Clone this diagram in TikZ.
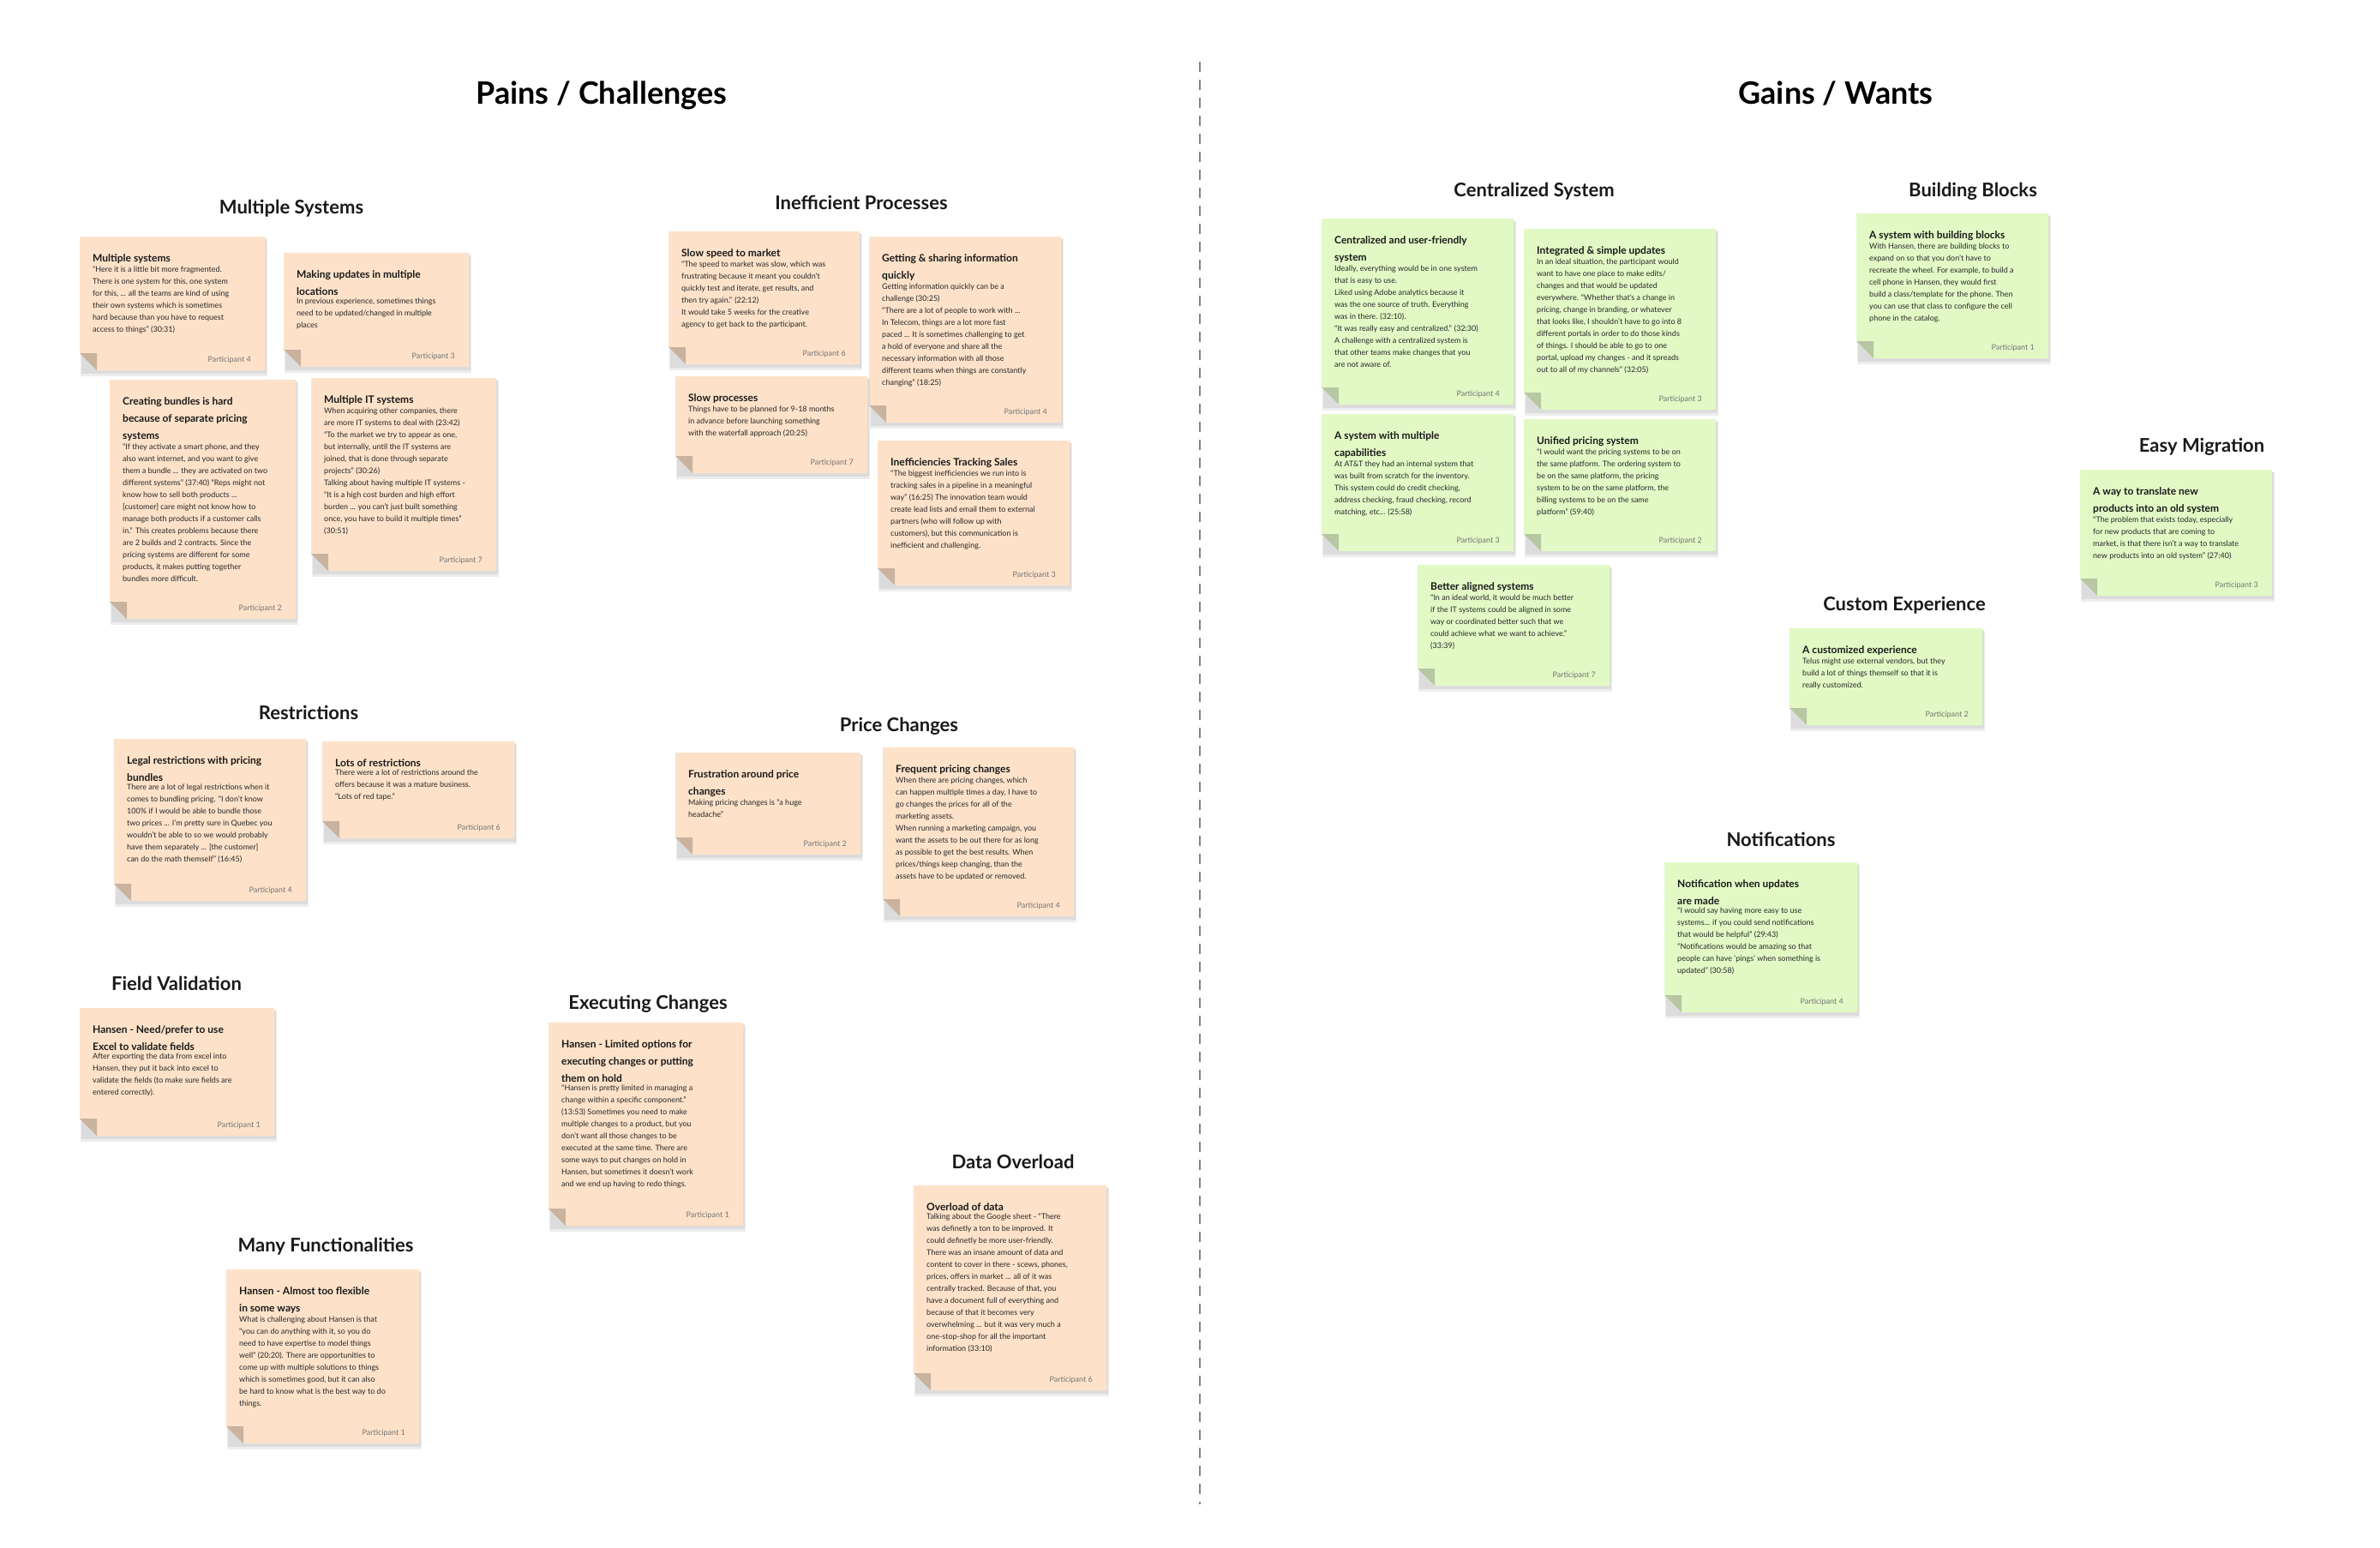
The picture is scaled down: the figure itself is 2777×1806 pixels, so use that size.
\documentclass[tikz,border=0pt]{standalone}
\usepackage{fontspec}
\setmainfont{Lato}
\definecolor{peach}{HTML}{FDE2C9}
\definecolor{peachfold}{HTML}{C9B39F}
\definecolor{mint}{HTML}{E2F9C5}
\definecolor{mintfold}{HTML}{B7C7A3}
\definecolor{divider}{HTML}{8A8478}
\tikzset{
  ntitle/.style={font=\fontsize{12}{20}\selectfont\bfseries, align=left, inner sep=0pt, text=black!90},
  nbody/.style={font=\fontsize{9}{14}\selectfont, align=left, inner sep=0pt, text=black!85},
  npart/.style={font=\fontsize{9}{12}\selectfont, inner sep=0pt, text=black!55},
  mainhead/.style={font=\fontsize{36}{40}\selectfont\bfseries, inner sep=0pt, anchor=base},
  sechead/.style={font=\fontsize{22}{26}\selectfont\bfseries, inner sep=0pt, anchor=base, text=black!90},
  shadowfill/.style={fill=black, opacity=0.07}
}
\newcommand\stickynote[9]{%
  \fill[shadowfill] (#2+1,#3+3) rectangle (#4+3,#5+7);
  \fill[shadowfill] (#2+2,#3+2) rectangle (#4+2,#5+4);
  \fill[#6] (#2,#3) -- (#4,#3) -- (#4,#5) -- (#2+20,#5) -- (#2,#5-20) -- cycle;
  \fill[#6fold] (#2,#5-20) -- (#2+20,#5-20) -- (#2+20,#5) -- cycle;
  \node[ntitle, anchor=north west] (#1t) at (#2+15,#3+20) {#7};
  \node[nbody, anchor=north west] (#1b) at ([yshift=-3pt]#1t.south west) {#8};
  \node[npart, anchor=base east] (#1p) at (#4-16,#5-10) {#9};
}
\begin{document}
\begin{tikzpicture}[x=1pt,y=-1pt]
\useasboundingbox (0,0) rectangle (2777,1806);
\fill[white] (0,0) rectangle (2777,1806);
\coordinate (dtop) at (1400,72);
\coordinate (dbot) at (1400,1755);
\draw[divider, line width=2pt, dash pattern=on 12pt off 9pt] (dtop) -- (dbot);

\node[mainhead] (pains) at (702,122) {Pains / Challenges};
\node[mainhead] (gains) at (2142,122) {Gains / Wants};

\node[sechead] (h1) at (340,250) {Multiple Systems};
\node[sechead] (h2) at (1005,245) {Inefficient Processes};
\node[sechead] (h3) at (360,839) {Restrictions};
\node[sechead] (h4) at (1049,853) {Price Changes};
\node[sechead] (h5) at (206,1155) {Field Validation};
\node[sechead] (h6) at (756,1177) {Executing Changes};
\node[sechead] (h7) at (1182,1363) {Data Overload};
\node[sechead] (h8) at (380,1460) {Many Functionalities};
\node[sechead] (h9) at (1790,230) {Centralized System};
\node[sechead] (h10) at (2302,230) {Building Blocks};
\node[sechead] (h11) at (2569,527) {Easy Migration};
\node[sechead] (h12) at (2222,712) {Custom Experience};
\node[sechead] (h13) at (2078,987) {Notifications};

\stickynote{n1}{93}{276}{309}{432}{peach}{Multiple systems}{“Here it is a little bit more fragmented.\\There is one system for this, one system\\for this, ... all the teams are kind of using\\their own systems which is sometimes\\hard because than you have to request\\access to things” (30:31)}{Participant 4}
\stickynote{n2}{331}{295}{547}{428}{peach}{Making updates in multiple\\locations}{In previous experience, sometimes things\\need to be updated/changed in multiple\\places}{Participant 3}
\stickynote{n3}{128}{443}{345}{722}{peach}{Creating bundles is hard\\because of separate pricing\\systems}{“If they activate a smart phone, and they\\also want internet, and you want to give\\them a bundle ... they are activated on two\\different systems” (37:40) “Reps might not\\know how to sell both products ...\\{[}customer{]} care might not know how to\\manage both products if a customer calls\\in.” This creates problems because there\\are 2 builds and 2 contracts. Since the\\pricing systems are different for some\\products, it makes putting together\\bundles more difficult.}{Participant 2}
\stickynote{n4}{363}{441}{579}{666}{peach}{Multiple IT systems}{When acquiring other companies, there\\are more IT systems to deal with (23:42)\\“To the market we try to appear as one,\\but internally, until the IT systems are\\joined, that is done through separate\\projects” (30:26)\\Talking about having multiple IT systems -\\“It is a high cost burden and high effort\\burden ... you can’t just built something\\once, you have to build it multiple times”\\(30:51)}{Participant 7}

\stickynote{n5}{780}{270}{1003}{425}{peach}{Slow speed to market}{“The speed to market was slow, which was\\frustrating because it meant you couldn’t\\quickly test and iterate, get results, and\\then try again.” (22:12)\\It would take 5 weeks for the creative\\agency to get back to the participant.}{Participant 6}
\stickynote{n6}{1014}{276}{1238}{493}{peach}{Getting \& sharing information\\quickly}{Getting information quickly can be a\\challenge (30:25)\\“There are a lot of people to work with ...\\In Telecom, things are a lot more fast\\paced ... It is sometimes challenging to get\\a hold of everyone and share all the\\necessary information with all those\\different teams when things are constantly\\changing” (18:25)}{Participant 4}
\stickynote{n7}{788}{439}{1012}{552}{peach}{Slow processes}{Things have to be planned for 9-18 months\\in advance before launching something\\with the waterfall approach (20:25)}{Participant 7}
\stickynote{n8}{1024}{514}{1248}{683}{peach}{Inefficiencies Tracking Sales}{“The biggest inefficiencies we run into is\\tracking sales in a pipeline in a meaningful\\way” (16:25) The innovation team would\\create lead lists and email them to external\\partners (who will follow up with\\customers), but this communication is\\inefficient and challenging.}{Participant 3}

\stickynote{n9}{133}{862}{357}{1051}{peach}{Legal restrictions with pricing\\bundles}{There are a lot of legal restrictions when it\\comes to bundling pricing. “I don’t know\\100\% if I would be able to bundle those\\two prices ... I’m pretty sure in Quebec you\\wouldn’t be able to so we would probably\\have them separately ... {[}the customer{]}\\can do the math themself” (16:45)}{Participant 4}
\stickynote{n10}{376}{865}{600}{978}{peach}{Lots of restrictions}{There were a lot of restrictions around the\\offers because it was a mature business.\\“Lots of red tape.”}{Participant 6}

\stickynote{n11}{788}{878}{1004}{997}{peach}{Frustration around price\\changes}{Making pricing changes is “a huge\\headache”}{Participant 2}
\stickynote{n12}{1030}{872}{1253}{1069}{peach}{Frequent pricing changes}{When there are pricing changes, which\\can happen multiple times a day, I have to\\go changes the prices for all of the\\marketing assets.\\When running a marketing campaign, you\\want the assets to be out there for as long\\as possible to get the best results. When\\prices/things keep changing, than the\\assets have to be updated or removed.}{Participant 4}

\stickynote{n13}{93}{1176}{320}{1325}{peach}{Hansen - Need/prefer to use\\Excel to validate fields}{After exporting the data from excel into\\Hansen, they put it back into excel to\\validate the fields (to make sure fields are\\entered correctly).}{Participant 1}
\stickynote{n14}{640}{1193}{867}{1430}{peach}{Hansen - Limited options for\\executing changes or putting\\them on hold}{“Hansen is pretty limited in managing a\\change within a specific component.”\\(13:53) Sometimes you need to make\\multiple changes to a product, but you\\don’t want all those changes to be\\executed at the same time. There are\\some ways to put changes on hold in\\Hansen, but sometimes it doesn’t work\\and we end up having to redo things.}{Participant 1}
\stickynote{n15}{264}{1481}{489}{1684}{peach}{Hansen - Almost too flexible\\in some ways}{What is challenging about Hansen is that\\“you can do anything with it, so you do\\need to have expertise to model things\\well” (20:20). There are opportunities to\\come up with multiple solutions to things\\which is sometimes good, but it can also\\be hard to know what is the best way to do\\things.}{Participant 1}
\stickynote{n16}{1066}{1383}{1291}{1622}{peach}{Overload of data}{Talking about the Google sheet - “There\\was definetly a ton to be improved. It\\could definetly be more user-friendly.\\There was an insane amount of data and\\content to cover in there - scews, phones,\\prices, offers in market ... all of it was\\centrally tracked. Because of that, you\\have a document full of everything and\\because of that it becomes very\\overwhelming ... but it was very much a\\one-stop-shop for all the important\\information (33:10)}{Participant 6}

\stickynote{g1}{1542}{255}{1766}{472}{mint}{Centralized and user-friendly\\system}{Ideally, everything would be in one system\\that is easy to use.\\Liked using Adobe analytics because it\\was the one source of truth. Everything\\was in there. (32:10).\\“It was really easy and centralized.” (32:30)\\A challenge with a centralized system is\\that other teams make changes that you\\are not aware of.}{Participant 4}
\stickynote{g2}{1778}{267}{2002}{478}{mint}{Integrated \& simple updates}{In an ideal situation, the participant would\\want to have one place to make edits/\\changes and that would be updated\\everywhere. “Whether that’s a change in\\pricing, change in branding, or whatever\\that looks like, I shouldn’t have to go into 8\\different portals in order to do those kinds\\of things. I should be able to go to one\\portal, upload my changes - and it spreads\\out to all of my channels” (32:05)}{Participant 3}
\stickynote{g3}{1542}{483}{1766}{643}{mint}{A system with multiple\\capabilities}{At AT\&T they had an internal system that\\was built from scratch for the inventory.\\This system could do credit checking,\\address checking, fraud checking, record\\matching, etc... (25:58)}{Participant 3}
\stickynote{g4}{1778}{489}{2002}{643}{mint}{Unified pricing system}{“I would want the pricing systems to be on\\the same platform. The ordering system to\\be on the same platform, the pricing\\system to be on the same platform, the\\billing systems to be on the same\\platform” (59:40)}{Participant 2}
\stickynote{g5}{1654}{659}{1878}{800}{mint}{Better aligned systems}{“In an ideal world, it would be much better\\if the IT systems could be aligned in some\\way or coordinated better such that we\\could achieve what we want to achieve.”\\(33:39)}{Participant 7}
\stickynote{g6}{2166}{249}{2390}{418}{mint}{A system with building blocks}{With Hansen, there are building blocks to\\expand on so that you don’t have to\\recreate the wheel. For example, to build a\\cell phone in Hansen, they would first\\build a class/template for the phone. Then\\you can use that class to configure the cell\\phone in the catalog.}{Participant 1}
\stickynote{g7}{2427}{548}{2651}{695}{mint}{A way to translate new\\products into an old system}{“The problem that exists today, especially\\for new products that are coming to\\market, is that there isn’t a way to translate\\new products into an old system” (27:40)}{Participant 3}
\stickynote{g8}{2088}{733}{2313}{846}{mint}{A customized experience}{Telus might use external vendors, but they\\build a lot of things themself so that it is\\really customized.}{Participant 2}
\stickynote{g9}{1942}{1006}{2167}{1181}{mint}{Notification when updates\\are made}{“I would say having more easy to use\\systems... if you could send notifications\\that would be helpful” (29:43)\\“Notifications would be amazing so that\\people can have ‘pings’ when something is\\updated” (30:58)}{Participant 4}
\end{tikzpicture}
\end{document}
